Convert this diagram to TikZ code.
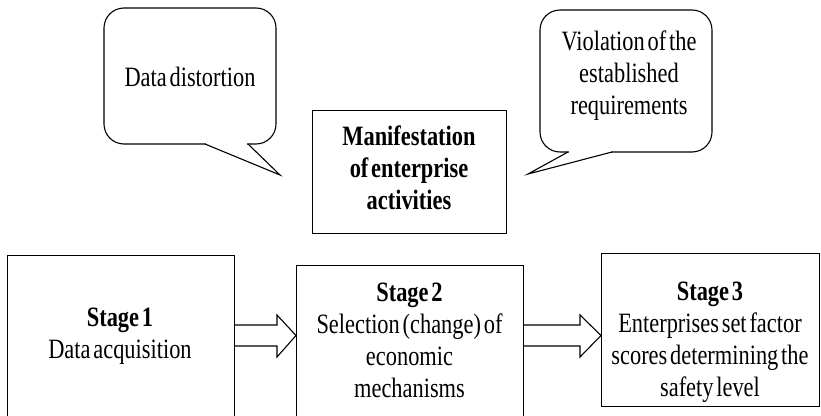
\documentclass[tikz,border=0pt]{standalone}
\usepackage{fontspec}
\setmainfont{Liberation Serif}[FakeStretch=0.8,WordSpace=0.5]
\begin{document}
\begin{tikzpicture}[x=1pt,y=-1pt,
  boxst/.style={draw=black,line width=1.1pt,rectangle,inner sep=0pt,anchor=north west},
  txt/.style={font=\fontsize{28}{32}\selectfont,align=center,inner sep=0pt},
  bubble/.style={draw=black,line width=1.1pt,rounded corners=20pt},
  tail/.style={draw=black,line width=1.1pt,line join=miter},
  blockarrow/.style={draw=black,line width=1.1pt,line join=miter}]
\useasboundingbox (0,0) rectangle (821,415);
\clip (0,0) rectangle (821,415);
% callout 1
\draw[bubble] (104,8) rectangle (276,144);
\fill[white] (205.8,141.5) rectangle (247.2,146.5);
\draw[tail] (205,144) -- (280,175) -- (248,144);
\node[txt,anchor=base] (t1) at (190,86) {Data distortion};
% callout 2
\draw[bubble] (540,10) rectangle (712,152);
\fill[white] (568.8,149.5) rectangle (611.2,154.5);
\draw[tail] (568,152) -- (528,174) -- (612,152);
\node[txt] (t2) at (629,76) {Violation of the\\established\\requirements};
% central box
\node[boxst,minimum width=194pt,minimum height=123pt] (m) at (312,110) {};
\node[txt,font=\fontsize{28}{32}\selectfont\bfseries] (mt) at (409,167.5) {Manifestation\\of enterprise\\activities};
% stage boxes
\node[boxst,minimum width=227pt,minimum height=180pt] (s1) at (7,255) {};
\node[boxst,minimum width=227pt,minimum height=170pt] (s2) at (296,265) {};
\node[boxst,minimum width=218pt,minimum height=153pt] (s3) at (601,253) {};
\node[txt] (s1t) at (120,336.5) {\textbf{Stage 1}\\Data acquisition};
\node[txt] (s2t) at (409.5,340) {\textbf{Stage 2}\\Selection (change) of\\economic\\mechanisms};
\node[txt] (s3t) at (710,342) {\textbf{Stage 3}\\Enterprises set factor\\scores determining the\\safety level};
% block arrows
\draw[blockarrow] (s1.east |- 0,325) -- (277,325) -- (277,315) -- (s2.west |- 0,335.5) -- (277,357) -- (277,346) -- (s1.east |- 0,346);
\draw[blockarrow] (s2.east |- 0,325) -- (580,325) -- (580,315) -- (s3.west |- 0,335.5) -- (580,357) -- (580,346) -- (s2.east |- 0,346);
\end{tikzpicture}
\end{document}
